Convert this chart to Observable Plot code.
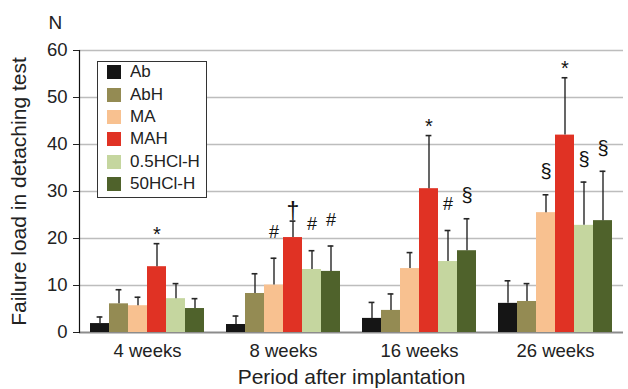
<!DOCTYPE html>
<html>
<head>
<meta charset="utf-8">
<script src="https://cdn.jsdelivr.net/npm/d3@7"></script>
<script src="https://cdn.jsdelivr.net/npm/@observablehq/plot@0.6"></script>
<style>
  body { margin: 0; background: #fff; }
  #wrap { position: relative; width: 628px; height: 389px; font-family: "Liberation Sans", Arial, sans-serif; }
  #legend { position: absolute; left: 97px; top: 61px; width: 108px; height: 135px; border: 1px solid #333; background: #fff; overflow: hidden; }
  #legend .lg-swatches { margin: -1px 0 0 0 !important; padding: 0 0 0 9px !important; font-size: 17px !important; font-family: "Liberation Sans", Arial, sans-serif !important; color: #222 !important; columns: auto !important; display: block !important; min-height: 0 !important; }
  #legend .lg-swatch { height: 22.4px; display: flex !important; align-items: center; margin: 0 !important; padding: 0 !important; }
  #legend .lg-swatch svg { margin-right: 9px !important; }
</style>
</head>
<body>
<div id="wrap"></div>
<script>
// Categories
const weeks = ["4 weeks", "8 weeks", "16 weeks", "26 weeks"];
const series = ["Ab", "AbH", "MA", "MAH", "0.5HCl-H", "50HCl-H"];
const colors = ["#151515", "#948b53", "#f8c190", "#e03224", "#c5d69f", "#4f622b"];

// Mean failure load (N), per series across weeks
const meanAb    = [1.9, 1.7, 3.0, 6.2];
const meanAbH   = [6.1, 8.3, 4.7, 6.6];
const meanMA    = [5.7, 10.1, 13.6, 25.5];
const meanMAH   = [14.0, 20.2, 30.6, 42.0];
const mean05HCl = [7.2, 13.4, 15.1, 22.8];
const mean50HCl = [5.1, 13.0, 17.4, 23.8];

// Standard deviations (upper error bar)
const sdAb    = [1.4, 1.8, 3.4, 4.8];
const sdAbH   = [3.0, 4.2, 3.5, 3.8];
const sdMA    = [1.8, 5.7, 3.4, 3.8];
const sdMAH   = [4.9, 3.5, 11.3, 12.2];
const sd05HCl = [3.2, 4.0, 6.6, 9.2];
const sd50HCl = [2.1, 5.4, 6.8, 10.5];

// Significance marks
const sigAb    = ["", "", "", ""];
const sigAbH   = ["", "", "", ""];
const sigMA    = ["", "#", "", "§"];
const sigMAH   = ["*", "†", "*", "*"];
const sig05HCl = ["", "#", "#", "§"];
const sig50HCl = ["", "#", "§", "§"];

const unitLabel = ["N"];

const means = [meanAb, meanAbH, meanMA, meanMAH, mean05HCl, mean50HCl];
const sds = [sdAb, sdAbH, sdMA, sdMAH, sd05HCl, sd50HCl];
const sigs = [sigAb, sigAbH, sigMA, sigMAH, sig05HCl, sig50HCl];

const data = series.flatMap((s, i) => weeks.map((w, j) => ({
  series: s, week: w, value: means[i][j], sd: sds[i][j], sig: sigs[i][j]
})));
const errTop = d => d.value + d.sd;
const font = "Liberation Sans, Arial, sans-serif";

const symText = (sym, opts) => Plot.text(data.filter(d => d.sig === sym), {
  fx: "week", x: "series", y: errTop, text: "sig", fill: "#111", lineAnchor: "middle", fontFamily: font, ...opts
});

const chart = Plot.plot({
  width: 628,
  height: 389,
  marginLeft: 77,
  marginRight: 4,
  marginTop: 50,
  marginBottom: 57,
  style: { fontFamily: font, fontSize: "18px", color: "#222", background: "#fff", overflow: "visible" },
  fx: { domain: weeks, paddingInner: 0, paddingOuter: 0, label: null },
  x: { domain: series, paddingInner: 0, paddingOuter: 0.56, axis: null },
  y: { domain: [0, 60], label: null },
  color: { domain: series, range: colors },
  marks: [
    Plot.ruleY([10, 20, 30, 40, 50, 60], { stroke: "#bdbdbd", strokeWidth: 1.6 }),
    Plot.ruleY([0], { stroke: "#8c8c8c", strokeWidth: 2 }),
    Plot.frame({ anchor: "left", facetAnchor: "left", stroke: "#111", strokeWidth: 1.2 }),
    Plot.axisY({ ticks: [0, 10, 20, 30, 40, 50, 60], tickSize: 6, tickPadding: 6, fontSize: 18.5, label: null }),
    Plot.axisY({ ticks: [], label: "Failure load in detaching test", labelAnchor: "center", labelOffset: 68, fontSize: 21, labelArrow: "none" }),
    Plot.text(unitLabel, { text: d => d, frameAnchor: "top-left", facetAnchor: "left", textAnchor: "start", lineAnchor: "middle", dx: -31, dy: -28, fontSize: 19, fontFamily: font, fill: "#222" }),
    Plot.axisFx({ anchor: "bottom", tickSize: 0, tickPadding: 11, fontSize: 18.5, label: null }),
    Plot.axisFx({ anchor: "bottom", ticks: [], label: "Period after implantation", labelAnchor: "center", labelOffset: 51, fontSize: 21, labelArrow: "none" }),
    Plot.barY(data, { fx: "week", x: "series", y: "value", fill: "series" }),
    Plot.ruleX(data, { fx: "week", x: "series", y1: "value", y2: errTop, stroke: "#262626", strokeWidth: 1.4 }),
    Plot.tickY(data, { fx: "week", x: "series", y: errTop, stroke: "#262626", strokeWidth: 1.6, insetLeft: 6.6, insetRight: 6.6 }),
    symText("*", { fontSize: 20, dy: -9 }),
    symText("#", { fontSize: 18, dy: -26 }),
    symText("§", { fontSize: 20, dy: -23 }),
    symText("†", { fontSize: 23, dy: -9 })
  ]
});

const wrap = document.getElementById("wrap");
wrap.appendChild(chart);

const legendBox = document.createElement("div");
legendBox.id = "legend";
legendBox.appendChild(Plot.legend({
  color: { domain: series, range: colors },
  legend: "swatches",
  columns: 1,
  swatchSize: 14,
  className: "lg"
}));
wrap.appendChild(legendBox);
</script>
</body>
</html>
